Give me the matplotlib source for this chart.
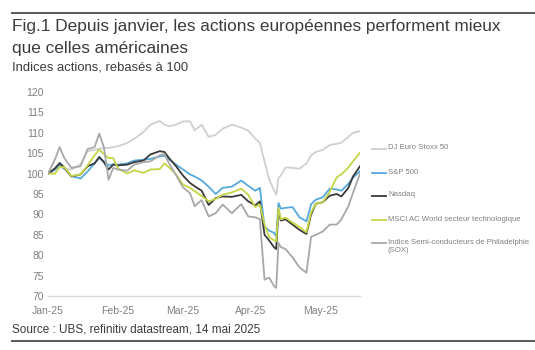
import matplotlib
matplotlib.use("Agg")
import matplotlib.pyplot as plt
from matplotlib.lines import Line2D
import pandas as pd

plt.rcParams['font.family'] = ['Liberation Sans', 'DejaVu Sans']

# dates of the sampled points
dates = ['2024-12-31', '2025-01-03', '2025-01-05', '2025-01-07', '2025-01-10', '2025-01-14',
         '2025-01-17', '2025-01-20', '2025-01-22', '2025-01-24', '2025-01-26', '2025-01-28',
         '2025-01-30', '2025-02-03', '2025-02-06', '2025-02-10', '2025-02-13', '2025-02-17',
         '2025-02-19', '2025-02-21', '2025-02-24', '2025-02-27', '2025-03-02', '2025-03-04',
         '2025-03-07', '2025-03-10', '2025-03-13', '2025-03-16', '2025-03-20', '2025-03-24',
         '2025-03-27', '2025-03-30', '2025-04-01', '2025-04-03', '2025-04-05', '2025-04-07',
         '2025-04-08', '2025-04-09', '2025-04-10', '2025-04-12', '2025-04-15', '2025-04-18',
         '2025-04-21', '2025-04-23', '2025-04-25', '2025-04-28', '2025-05-01', '2025-05-04',
         '2025-05-06', '2025-05-09', '2025-05-11', '2025-05-14']

euro_stoxx = [100, 100.9, 101.7, 101.1, 101.0, 102.3, 105.5, 105.8, 106.1, 106.3, 106.3, 106.5,
              106.7, 107.5, 108.5, 110.2, 112.0, 112.9, 112.0, 111.6, 112.0, 112.8, 112.8, 110.6,
              112.0, 109.0, 109.5, 111.0, 112.0, 111.3, 110.5, 108.6, 107.5, 103.0, 98.5, 96.0,
              94.8, 99.0, 99.5, 101.5, 101.4, 101.2, 102.5, 104.5, 105.3, 105.8, 107.0, 107.3,
              107.6, 109.0, 110.0, 110.4]
sp500 = [100, 101.0, 102.2, 101.3, 99.4, 98.8, 100.5, 102.5, 103.8, 103.0, 102.0, 102.3,
         102.2, 102.5, 103.2, 103.4, 103.6, 104.2, 104.4, 103.5, 102.2, 101.0, 99.8, 99.3,
         98.3, 96.8, 95.0, 96.5, 96.8, 98.3, 97.0, 95.8, 96.5, 87.0, 86.0, 85.5,
         84.6, 92.8, 91.4, 91.6, 91.8, 89.3, 88.3, 92.5, 93.6, 94.2, 96.3, 96.1,
         95.8, 97.5, 99.0, 100.6]
nasdaq = [100, 101.3, 102.6, 101.5, 99.3, 99.8, 101.8, 102.5, 104.1, 102.8, 101.0, 102.2,
          102.0, 102.2, 102.8, 103.2, 104.7, 105.5, 105.3, 103.8, 101.8, 99.5, 97.7, 96.9,
          95.8, 92.3, 94.0, 94.4, 94.3, 94.8, 93.2, 92.2, 93.2, 85.0, 83.6, 82.0,
          81.5, 91.0, 88.5, 88.8, 87.5, 86.2, 85.2, 90.0, 92.6, 93.0, 94.6, 95.0,
          94.4, 96.5, 99.3, 101.8]
msci_tech = [100, 100.0, 101.6, 101.6, 99.4, 99.8, 102.0, 104.5, 105.9, 104.8, 103.8, 103.8,
             101.3, 100.0, 100.8, 100.2, 101.0, 101.1, 102.5, 101.5, 99.8, 97.3, 96.5, 95.7,
             94.5, 93.2, 93.8, 94.8, 95.4, 96.3, 94.8, 91.8, 92.4, 87.5, 84.4, 83.7,
             83.4, 91.6, 88.8, 89.2, 88.0, 86.9, 85.6, 90.5, 92.6, 93.0, 95.5, 99.1,
             99.8, 101.5, 103.0, 105.1]
sox = [100, 103.5, 106.5, 103.8, 101.4, 101.8, 106.0, 106.5, 109.8, 106.5, 98.5, 101.4,
       101.0, 100.7, 102.2, 102.8, 103.0, 104.5, 104.8, 102.5, 99.6, 96.6, 95.2, 92.0,
       93.5, 89.5, 90.3, 92.4, 90.3, 92.5, 89.5, 89.3, 88.8, 74.0, 74.5, 72.5,
       72.0, 83.0, 82.0, 81.5, 79.5, 77.0, 75.7, 84.5, 85.0, 85.8, 87.5, 87.5,
       88.8, 92.0, 95.3, 100.0]

labels = ['DJ Euro Stoxx 50', 'S&P 500', 'Nasdaq', 'MSCI AC World secteur technologique',
          'Indice Semi-conducteurs de Philadelphie\n(SOX)']
colors = ['#cfcfcf', '#55aadd', '#3a3a3a', '#c6d545', '#a8a8a8']
series = [euro_stoxx, sp500, nasdaq, msci_tech, sox]

tick_dates = ['2024-12-31', '2025-01-30', '2025-02-27', '2025-03-28', '2025-04-27']
tick_labels = ['Jan-25', 'Feb-25', 'Mar-25', 'Apr-25', 'May-25']

W, H = 535, 350
fig = plt.figure(figsize=(W / 100, H / 100), dpi=100)
ax = fig.add_axes([48 / W, 1 - 296 / H, 312 / W, 204 / H])

x = pd.to_datetime(dates)
for vals, col in zip(series, colors):
    ax.plot(x, vals, color=col, lw=1.3, solid_joinstyle='round')

ax.set_xlim(pd.Timestamp('2024-12-31'), pd.Timestamp('2025-05-14'))
ax.set_ylim(70, 120)
ax.set_yticks(range(70, 121, 5))
ax.set_xticks(pd.to_datetime(tick_dates))
ax.set_xticklabels(tick_labels)
ax.tick_params(axis='both', length=0, labelsize=7.5, labelcolor='#808080')
ax.tick_params(axis='x', pad=7)
ax.tick_params(axis='y', pad=3)
for s in ['top', 'right', 'left']:
    ax.spines[s].set_visible(False)
ax.spines['bottom'].set_color('#d9d9d9')
ax.spines['bottom'].set_linewidth(1)

# legend drawn by hand to the right of the plot
leg_y = [149, 173, 196, 220, 243]
for lab, col, yy in zip(labels, colors, leg_y):
    fig.add_artist(Line2D([372 / W, 386 / W], [1 - yy / H] * 2, transform=fig.transFigure,
                          color=col, lw=1.3))
    fig.text(388 / W, 1 - (yy - 4.5) / H, lab, fontsize=5.6, color='#808080', va='top',
             ha='left', linespacing=1.35)

# titles, source and rules
fig.add_artist(Line2D([12 / W, 1], [1 - 13 / H] * 2, transform=fig.transFigure,
                      color='#5a5a5a', lw=1.4))
fig.text(12 / W, 1 - 27 / H, 'Fig.1 Depuis janvier, les actions européennes performent mieux',
         fontsize=12.4, color='#3c3c3c', va='center')
fig.text(12 / W, 1 - 49 / H, 'que celles américaines', fontsize=12.4, color='#3c3c3c',
         va='center')
fig.text(12 / W, 1 - 68 / H, 'Indices actions, rebasés à 100', fontsize=9.4, color='#3c3c3c',
         va='center')
fig.text(12 / W, 1 - 330 / H, 'Source : UBS, refinitiv datastream, 14 mai 2025', fontsize=8.5,
         color='#3c3c3c', va='center')
fig.add_artist(Line2D([12 / W, 1], [1 - 341 / H] * 2, transform=fig.transFigure,
                      color='#5a5a5a', lw=1.4))

fig.savefig('out.png', dpi=100)
